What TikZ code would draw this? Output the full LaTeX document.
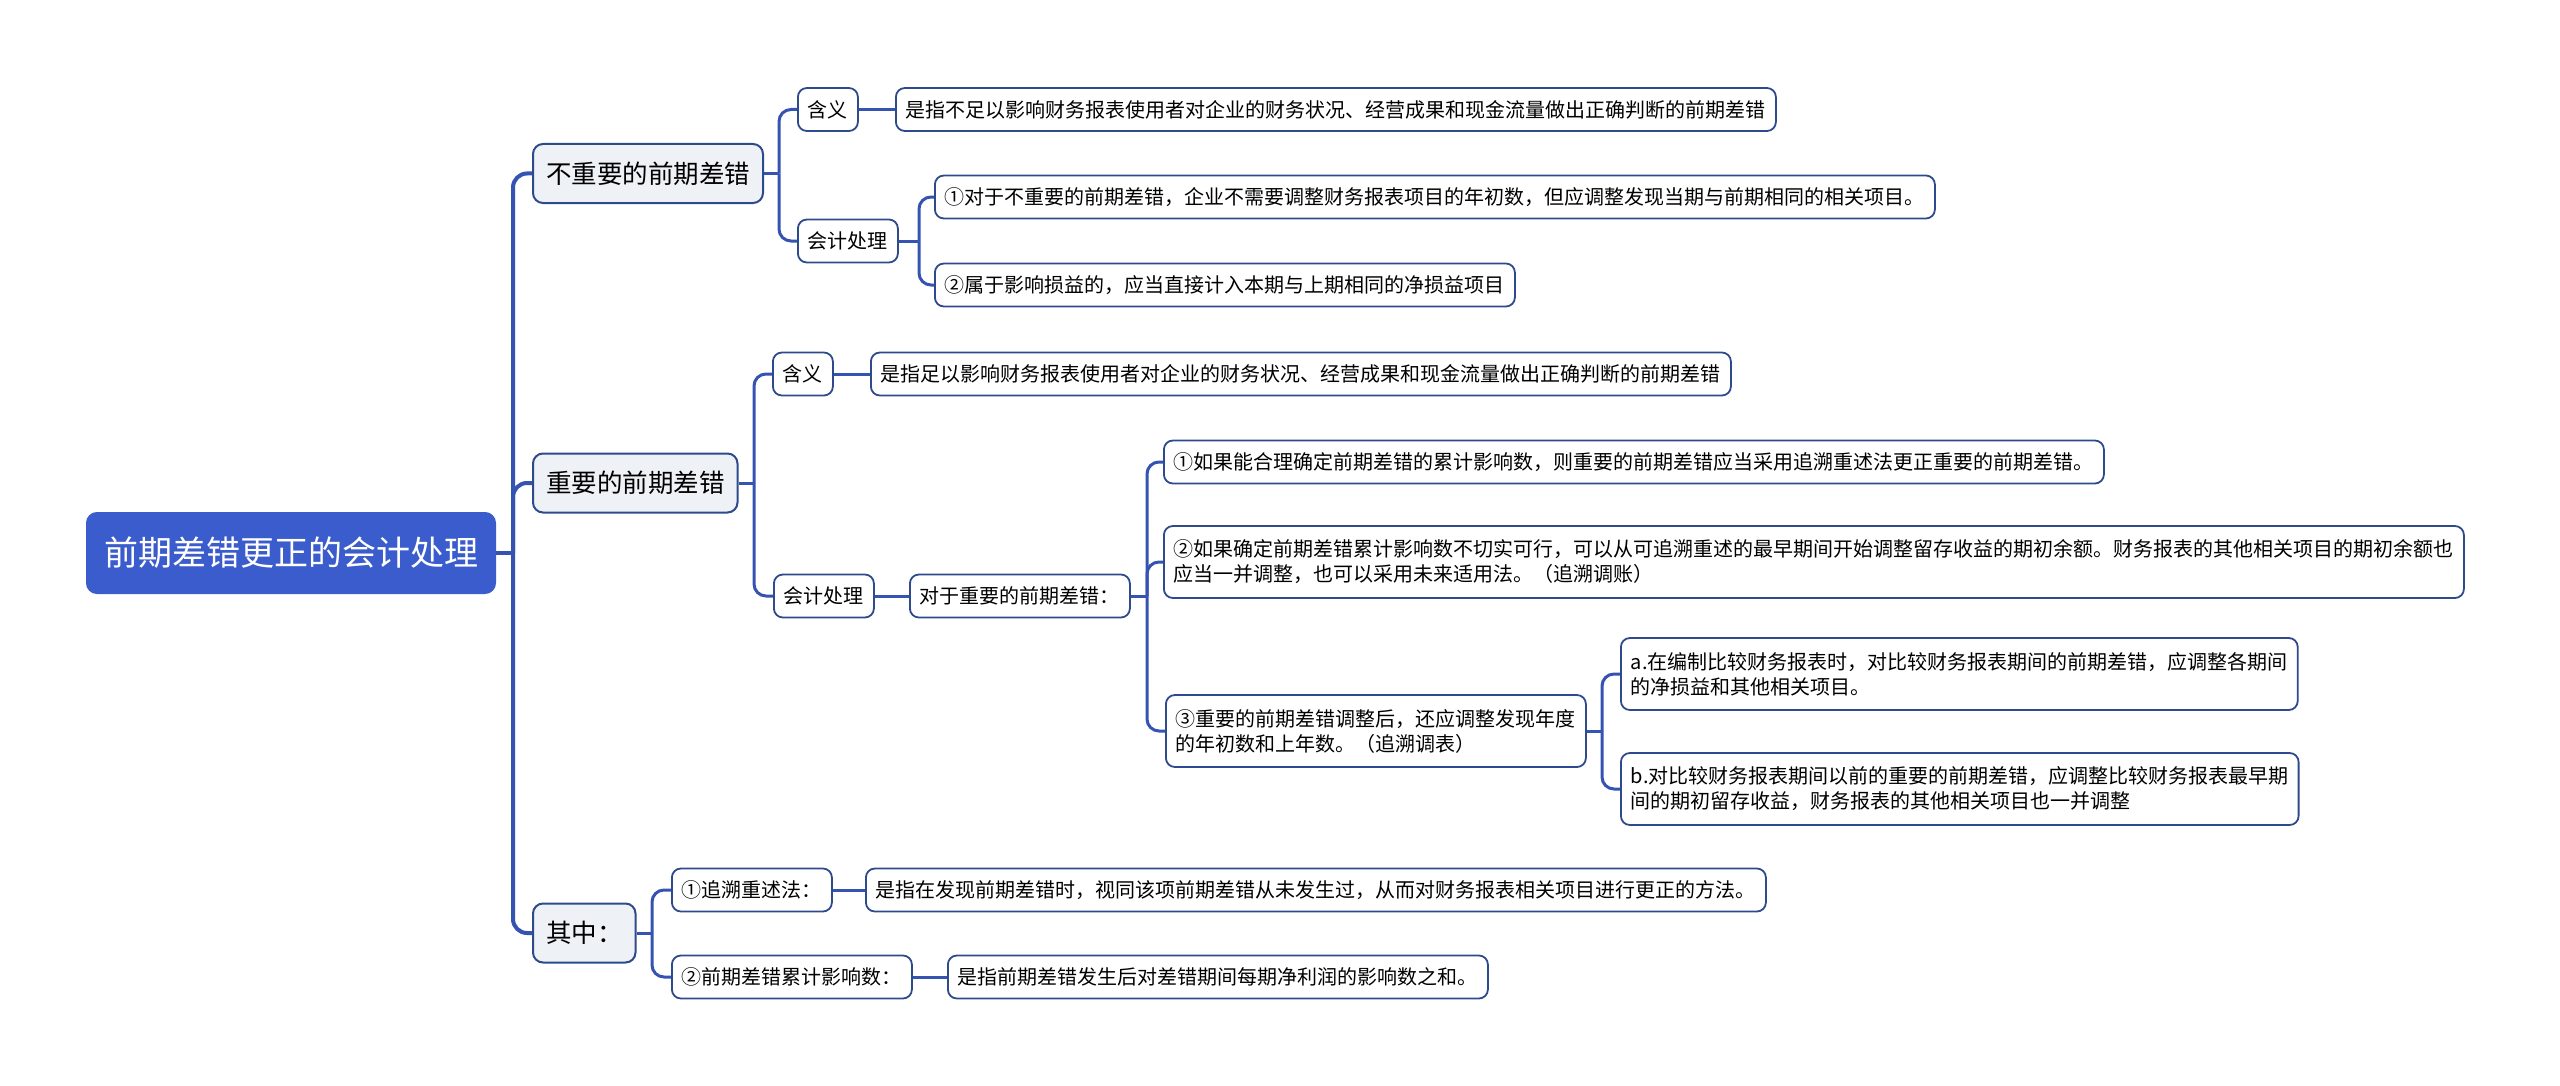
\documentclass[tikz,border=0pt]{standalone}
\usepackage{fontspec}
\setmainfont{Noto Sans CJK SC}
\definecolor{rootblue}{HTML}{3B5CCC}
\definecolor{linkblue}{HTML}{3553B0}
\definecolor{boxline}{HTML}{2D4A8C}
\definecolor{topicfill}{HTML}{EEF1F6}
\begin{document}
\begin{tikzpicture}[x=0.5pt,y=-0.5pt]
            \tikzstyle{every node}+=[inner sep=0pt, anchor=west]
            \tikzstyle{rootbox}=[draw=rootblue, fill=rootblue, text=white, line width=1pt, rounded corners=5pt, font=\fontsize{17}{20}\selectfont, inner xsep=8.5pt, minimum height=40pt]
            \tikzstyle{topicbox}=[draw=boxline, fill=topicfill, line width=1pt, rounded corners=5pt, font=\fontsize{12.75}{15}\selectfont, inner xsep=6.5pt, minimum height=29.5pt]
            \tikzstyle{leafbox}=[draw=boxline, fill=white, line width=0.9pt, rounded corners=4.5pt, font=\fontsize{10}{12.5}\selectfont, inner xsep=5pt, minimum height=21.5pt, align=left]
            \tikzstyle{twoline}=[leafbox, minimum height=36pt]
            \tikzstyle{trunk}=[draw=linkblue, line width=2pt, rounded corners=7pt]
            \tikzstyle{link}=[draw=linkblue, line width=1.5pt, rounded corners=6pt]
            \useasboundingbox (0,0) rectangle (2560,1086);
            \node [rootbox] (root) at (86,553) {前期差错更正的会计处理};
            \node [topicbox] (minor) at (532,173.5) {不重要的前期差错};
            \node [topicbox] (major) at (532,483) {重要的前期差错};
            \node [topicbox] (notes) at (532,933) {其中：};
            \node [leafbox] (minorDef) at (797,109.5) {含义};
            \node [leafbox] (minorDefTxt) at (895,109.5) {是指不足以影响财务报表使用者对企业的财务状况、经营成果和现金流量做出正确判断的前期差错};
            \node [leafbox] (minorAcc) at (797,241) {会计处理};
            \node [leafbox] (minorAccA) at (934,197) {①对于不重要的前期差错，企业不需要调整财务报表项目的年初数，但应调整发现当期与前期相同的相关项目。};
            \node [leafbox] (minorAccB) at (934,285) {②属于影响损益的，应当直接计入本期与上期相同的净损益项目};
            \node [leafbox] (majorDef) at (772,374) {含义};
            \node [leafbox] (majorDefTxt) at (870,374) {是指足以影响财务报表使用者对企业的财务状况、经营成果和现金流量做出正确判断的前期差错};
            \node [leafbox] (majorAcc) at (773,596) {会计处理};
            \node [leafbox] (majorAccTxt) at (909,596) {对于重要的前期差错：};
            \node [leafbox] (majorAccA) at (1163,462) {①如果能合理确定前期差错的累计影响数，则重要的前期差错应当采用追溯重述法更正重要的前期差错。};
            \node [twoline] (majorAccB) at (1163,562) {②如果确定前期差错累计影响数不切实可行，可以从可追溯重述的最早期间开始调整留存收益的期初余额。财务报表的其他相关项目的期初余额也\\应当一并调整，也可以采用未来适用法。（追溯调账）};
            \node [twoline] (majorAccC) at (1165,731) {③重要的前期差错调整后，还应调整发现年度\\的年初数和上年数。（追溯调表）};
            \node [twoline] (majorAccCa) at (1620,674) {a.在编制比较财务报表时，对比较财务报表期间的前期差错，应调整各期间\\的净损益和其他相关项目。};
            \node [twoline] (majorAccCb) at (1620,789) {b.对比较财务报表期间以前的重要的前期差错，应调整比较财务报表最早期\\间的期初留存收益，财务报表的其他相关项目也一并调整};
            \node [leafbox] (noteA) at (671,890) {①追溯重述法：};
            \node [leafbox] (noteATxt) at (865,890) {是指在发现前期差错时，视同该项前期差错从未发生过，从而对财务报表相关项目进行更正的方法。};
            \node [leafbox] (noteB) at (671,977) {②前期差错累计影响数：};
            \node [leafbox] (noteBTxt) at (947,977) {是指前期差错发生后对差错期间每期净利润的影响数之和。};
            \coordinate (j0) at (513,553);
            \coordinate (j1) at (779,173.5);
            \coordinate (j2) at (919,241);
            \coordinate (j3) at (754,483);
            \coordinate (j4) at (1147,596);
            \coordinate (j5) at (1602,731);
            \coordinate (j6) at (652,933);
            \draw [trunk] (root.east) -- (j0);
            \foreach \kid in {minor,major,notes}
                \draw [trunk] (j0) |- (\kid.west);
            \draw [link] (minor.east) -- (j1);
            \foreach \kid in {minorDef,minorAcc}
                \draw [link] (j1) |- (\kid.west);
            \draw [link] (minorDef.east) -- (minorDefTxt.west);
            \draw [link] (minorAcc.east) -- (j2);
            \foreach \kid in {minorAccA,minorAccB}
                \draw [link] (j2) |- (\kid.west);
            \draw [link] (major.east) -- (j3);
            \foreach \kid in {majorDef,majorAcc}
                \draw [link] (j3) |- (\kid.west);
            \draw [link] (majorDef.east) -- (majorDefTxt.west);
            \draw [link] (majorAcc.east) -- (majorAccTxt.west);
            \draw [link] (majorAccTxt.east) -- (j4);
            \foreach \kid in {majorAccA,majorAccB,majorAccC}
                \draw [link] (j4) |- (\kid.west);
            \draw [link] (majorAccC.east) -- (j5);
            \foreach \kid in {majorAccCa,majorAccCb}
                \draw [link] (j5) |- (\kid.west);
            \draw [link] (notes.east) -- (j6);
            \foreach \kid in {noteA,noteB}
                \draw [link] (j6) |- (\kid.west);
            \draw [link] (noteA.east) -- (noteATxt.west);
            \draw [link] (noteB.east) -- (noteBTxt.west);
\end{tikzpicture}
\end{document}
